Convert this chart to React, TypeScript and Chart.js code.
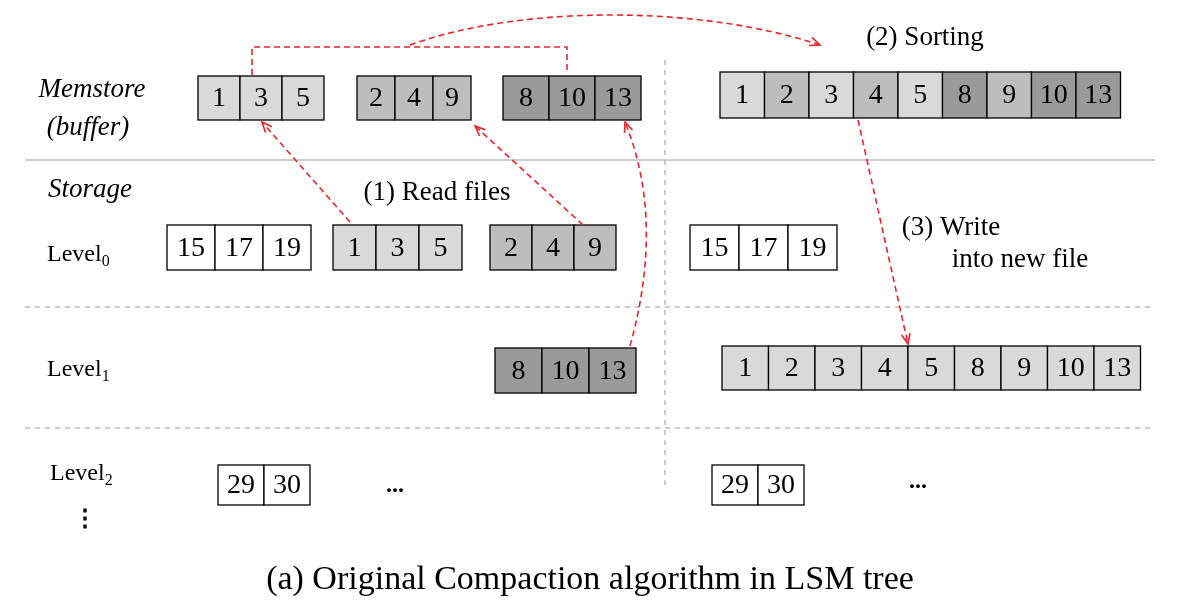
import React, { useEffect, useRef } from "react";
import { Chart, registerables } from "chart.js";
Chart.register(...registerables);

// shade codes: 0 white, 1 light, 2 medium, 3 dark
const boxX = [198, 357, 503, 720, 167, 333, 490, 690, 495, 722, 218, 712];
const boxY = [76, 76, 76, 72, 225, 225, 225, 225, 348, 346, 465, 465];
const boxW = [42, 38, 46, 44.5, 48, 43, 42, 49, 47, 46.5, 46, 46];
const boxH = [44, 44, 44, 46, 45, 45, 45, 45, 45, 44, 40, 40];
const boxValues = [
  ["1", "3", "5"], ["2", "4", "9"], ["8", "10", "13"],
  ["1", "2", "3", "4", "5", "8", "9", "10", "13"],
  ["15", "17", "19"], ["1", "3", "5"], ["2", "4", "9"], ["15", "17", "19"],
  ["8", "10", "13"], ["1", "2", "3", "4", "5", "8", "9", "10", "13"],
  ["29", "30"], ["29", "30"],
];
const boxShades = [
  [1, 1, 1], [2, 2, 2], [3, 3, 3],
  [1, 2, 1, 2, 1, 3, 2, 3, 3],
  [0, 0, 0], [1, 1, 1], [2, 2, 2], [0, 0, 0],
  [3, 3, 3], [1, 1, 1, 1, 1, 1, 1, 1, 1],
  [0, 0], [0, 0],
];
const shadeColors = ["#ffffff", "#d9d9d9", "#bdbdbd", "#9a9a9a"];

type Txt = [string, number, number, number, string];
const texts: Txt[] = [
  ["Memstore", 92, 90, 27, "italic "], ["(buffer)", 88, 128, 27, "italic "],
  ["Storage", 90, 190, 27, "italic "],
  ["(1) Read files", 437, 193, 27, ""], ["(2) Sorting", 925, 38, 27, ""],
  ["(3) Write", 955, 228, 27, ""], ["into new file", 1030, 260, 27, ""],
  ["...", 395, 486, 24, "bold "], ["...", 918, 482, 24, "bold "],
  ["⋮", 85, 520, 24, "bold "],
  ["(a) Original Compaction algorithm in LSM tree", 590, 580, 34, ""],
];
const levels: [string, string, number, number][] = [
  ["Level", "0", 85, 255], ["Level", "1", 85, 370], ["Level", "2", 88, 474],
];

export default function App() {
  const ref = useRef<HTMLCanvasElement>(null);
  useEffect(() => {
    document.body.style.margin = "0";
    const plugin = {
      id: "diagram",
      afterDraw(chart: any) {
        const { ctx } = chart;
        const sx = chart.scales.x, sy = chart.scales.y;
        const X = (v: number) => sx.getPixelForValue(v);
        const Y = (v: number) => sy.getPixelForValue(v);
        ctx.save();
        ctx.fillStyle = "#fff";
        ctx.fillRect(0, 0, chart.width, chart.height);
        ctx.strokeStyle = "#999"; ctx.lineWidth = 1.2; ctx.setLineDash([]);
        ctx.beginPath(); ctx.moveTo(X(25), Y(160)); ctx.lineTo(X(1155), Y(160)); ctx.stroke();
        ctx.setLineDash([5, 5]); ctx.strokeStyle = "#aaa";
        for (const yy of [307, 428]) { ctx.beginPath(); ctx.moveTo(X(25), Y(yy)); ctx.lineTo(X(1155), Y(yy)); ctx.stroke(); }
        ctx.beginPath(); ctx.moveTo(X(665), Y(60)); ctx.lineTo(X(665), Y(488)); ctx.stroke();
        ctx.setLineDash([]);
        boxX.forEach((bx, i) => {
          boxValues[i].forEach((v, j) => {
            const x0 = X(bx + j * boxW[i]), x1 = X(bx + (j + 1) * boxW[i]);
            const y0 = Y(boxY[i]), y1 = Y(boxY[i] + boxH[i]);
            ctx.fillStyle = shadeColors[boxShades[i][j]];
            ctx.fillRect(x0, y0, x1 - x0, y1 - y0);
            ctx.strokeStyle = "#000"; ctx.lineWidth = 1.3;
            ctx.strokeRect(x0, y0, x1 - x0, y1 - y0);
            ctx.fillStyle = "#000";
            ctx.font = "28px 'Liberation Serif'";
            ctx.textAlign = "center"; ctx.textBaseline = "middle";
            ctx.fillText(v, (x0 + x1) / 2, (y0 + y1) / 2 + 1);
          });
        });
        ctx.fillStyle = "#000"; ctx.textBaseline = "middle"; ctx.textAlign = "center";
        texts.forEach(([t, x, y, s, st]) => {
          ctx.font = `${st}${s}px 'Liberation Serif'`;
          const xx = t === "into new file" ? x - 10 : t === "(3) Write" ? x - 4 : x;
          ctx.fillText(t, X(xx), Y(y));
        });
        levels.forEach(([t, sub, x, y]) => {
          ctx.font = "24px 'Liberation Serif'"; ctx.textAlign = "left";
          ctx.fillText(t, X(x - 38), Y(y));
          const w = ctx.measureText(t).width;
          ctx.font = "16px 'Liberation Serif'";
          ctx.fillText(sub, X(x - 38) + w, Y(y + 7));
        });
        ctx.strokeStyle = "#e8262a"; ctx.lineWidth = 1.6; ctx.setLineDash([6, 4]);
        const head = (fx: number, fy: number, tx: number, ty: number) => {
          const a = Math.atan2(Y(ty) - Y(fy), X(tx) - X(fx));
          ctx.save(); ctx.setLineDash([]);
          ctx.beginPath();
          ctx.moveTo(X(tx) - 11 * Math.cos(a - 0.4), Y(ty) - 11 * Math.sin(a - 0.4));
          ctx.lineTo(X(tx), Y(ty));
          ctx.lineTo(X(tx) - 11 * Math.cos(a + 0.4), Y(ty) - 11 * Math.sin(a + 0.4));
          ctx.stroke(); ctx.restore();
        };
        const line = (a: number, b: number, c: number, d: number) => {
          ctx.beginPath(); ctx.moveTo(X(a), Y(b)); ctx.lineTo(X(c), Y(d)); ctx.stroke(); head(a, b, c, d);
        };
        line(350, 222, 262, 122);
        line(583, 225, 475, 126);
        line(858, 120, 908, 344);
        ctx.beginPath(); ctx.moveTo(X(630), Y(346));
        ctx.quadraticCurveTo(X(665), Y(220), X(625), Y(122)); ctx.stroke(); head(650, 190, 625, 122);
        ctx.beginPath(); ctx.moveTo(X(252), Y(75)); ctx.lineTo(X(252), Y(47)); ctx.lineTo(X(567), Y(47)); ctx.lineTo(X(567), Y(73)); ctx.stroke();
        ctx.beginPath(); ctx.moveTo(X(410), Y(45));
        ctx.bezierCurveTo(X(520), Y(5), X(700), Y(5), X(820), Y(45)); ctx.stroke(); head(780, 30, 820, 45);
        ctx.restore();
      },
    };
    const chart = new Chart(ref.current!, {
      type: "scatter",
      data: { datasets: [{ data: [] }] },
      options: {
        animation: false, responsive: false,
        layout: { padding: 0 },
        plugins: { legend: { display: false }, tooltip: { enabled: false } },
        scales: {
          x: { type: "linear", min: 0, max: 1180, display: false },
          y: { type: "linear", min: 0, max: 612, reverse: true, display: false },
        },
      },
      plugins: [plugin],
    });
    return () => chart.destroy();
  }, []);
  return <canvas ref={ref} width={1180} height={612} style={{ display: "block" }} />;
}
